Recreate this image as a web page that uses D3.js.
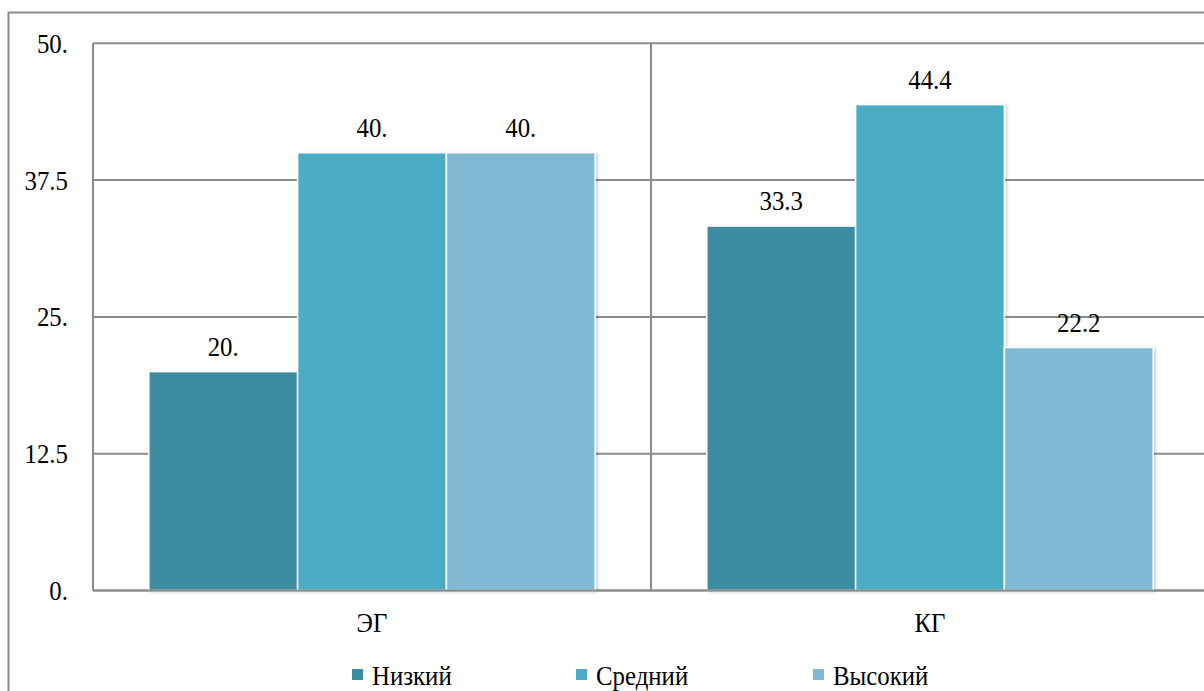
<!DOCTYPE html>
<html>
<head>
<meta charset="utf-8">
<script src="https://cdn.jsdelivr.net/npm/d3@7"></script>
<style>
  html, body { margin: 0; padding: 0; background: #fff; }
  svg { display: block; }
</style>
</head>
<body>
<svg id="chart" width="1204" height="691"></svg>
<script>
const categories = ["ЭГ", "КГ"];
const seriesNames = ["Низкий", "Средний", "Высокий"];
const seriesColors = ["#3c8ca2", "#4bacc6", "#7fb9d3"];
const lowValues = [20, 33.3];
const midValues = [40, 44.4];
const highValues = [40, 22.2];
const yTicks = [0, 12.5, 25, 37.5, 50];
const yTickLabels = ["0.", "12.5", "25.", "37.5", "50."];

const seriesValues = [lowValues, midValues, highValues];
const fmt = v => (v % 1 === 0 ? v + "." : String(v));

const svg = d3.select("#chart");
const FONT = 27, SX = 0.92;
const FAMILY = "'Liberation Serif', 'Times New Roman', Tinos, 'DejaVu Serif', serif";
const gridColor = "#8c8c8c";

const plot = { left: 93, right: 1209, top: 43.3, bottom: 590.5 };

function styleText(sel) {
  return sel.style("font-family", FAMILY).style("font-size", FONT + "px").style("fill", "#000");
}

// drop shadow filter
const defs = svg.append("defs");
const f = defs.append("filter").attr("id", "sh").attr("x", "-10%").attr("y", "-10%").attr("width", "130%").attr("height", "130%");
f.append("feDropShadow").attr("dx", 2).attr("dy", 1).attr("stdDeviation", 1.5).attr("flood-color", "#000").attr("flood-opacity", 0.18);

// outer border
svg.append("rect")
  .attr("x", 8.5).attr("y", 12.5).attr("width", 1230).attr("height", 700)
  .attr("fill", "none").attr("stroke", gridColor).attr("stroke-width", 2);

const y = d3.scaleLinear().domain([0, 50]).range([plot.bottom, plot.top]);
const x0 = d3.scaleBand().domain(categories).range([plot.left, plot.right]).paddingInner(0).paddingOuter(0);
const x1 = d3.scaleBand().domain(seriesNames).range([0, x0.bandwidth()]).paddingInner(0).paddingOuter(0.375);

// horizontal gridlines
svg.append("g").selectAll("line").data(yTicks).join("line")
  .attr("x1", plot.left).attr("x2", plot.right)
  .attr("y1", d => y(d)).attr("y2", d => y(d))
  .attr("stroke", gridColor).attr("stroke-width", 2);

// vertical lines: axis + category boundaries
const vlines = [plot.left].concat(categories.map(c => x0(c) + x0.bandwidth()));
svg.append("g").selectAll("line").data(vlines).join("line")
  .attr("x1", d => d).attr("x2", d => d)
  .attr("y1", plot.top).attr("y2", plot.bottom)
  .attr("stroke", gridColor).attr("stroke-width", 2);

// y tick labels
styleText(svg.append("g").selectAll("text").data(yTicks).join("text"))
  .attr("transform", d => `translate(68,${y(d) + 9.5}) scale(${SX},1)`)
  .attr("text-anchor", "end")
  .text((d, i) => yTickLabels[i]);

// bars
const barData = [];
categories.forEach((c, ci) => {
  seriesNames.forEach((s, si) => {
    barData.push({ cat: c, ser: s, si, v: seriesValues[si][ci] });
  });
});

svg.append("g").selectAll("rect").data(barData).join("rect")
  .attr("x", d => x0(d.cat) + x1(d.ser))
  .attr("y", d => y(d.v))
  .attr("width", x1.bandwidth())
  .attr("height", d => y(0) - y(d.v))
  .attr("fill", d => seriesColors[d.si])
  .attr("stroke", "#fff").attr("stroke-width", 1.5)
  .attr("filter", "url(#sh)");

// redraw bottom gridline over bar shadows
svg.append("line")
  .attr("x1", plot.left).attr("x2", plot.right)
  .attr("y1", y(0)).attr("y2", y(0))
  .attr("stroke", gridColor).attr("stroke-width", 2);

// value labels
styleText(svg.append("g").selectAll("text").data(barData).join("text"))
  .attr("transform", d => `translate(${x0(d.cat) + x1(d.ser) + x1.bandwidth() / 2},${y(d.v) - 16}) scale(${SX},1)`)
  .attr("text-anchor", "middle")
  .text(d => fmt(d.v));

// category labels
styleText(svg.append("g").selectAll("text").data(categories).join("text"))
  .attr("transform", d => `translate(${x0(d) + x0.bandwidth() / 2},632) scale(${SX},1)`)
  .attr("text-anchor", "middle")
  .text(d => d);

// legend
const legendX = [352, 576, 813];
const lg = svg.append("g").selectAll("g").data(seriesNames).join("g")
  .attr("transform", (d, i) => `translate(${legendX[i]},0)`);
lg.append("rect")
  .attr("x", 0).attr("y", 669).attr("width", 11).attr("height", 11)
  .attr("fill", (d, i) => seriesColors[i]);
styleText(lg.append("text"))
  .attr("transform", `translate(20,685) scale(${SX},1)`)
  .text(d => d);
</script>
</body>
</html>
